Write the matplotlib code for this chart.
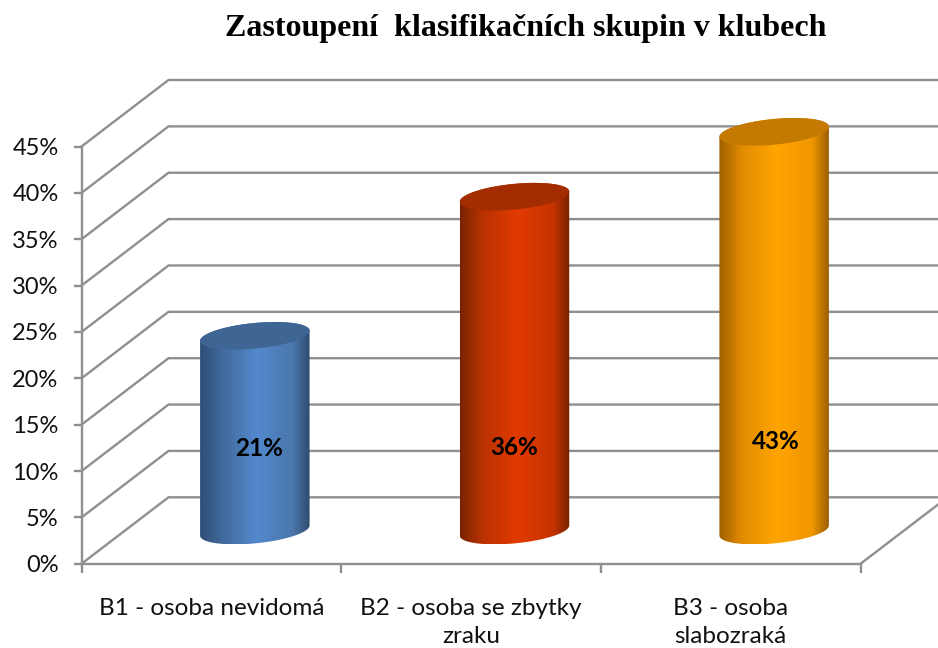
import numpy as np
import matplotlib
matplotlib.use("Agg")
import matplotlib.pyplot as plt
from matplotlib.path import Path
from matplotlib.patches import PathPatch
from matplotlib.colors import to_rgb

title = "Zastoupení  klasifikačních skupin v klubech"
categories = ["B1 - osoba nevidomá", "B2 - osoba se zbytky\nzraku", "B3 - osoba\nslabozraká"]
values = [21, 36, 43]
y_ticks = [0, 5, 10, 15, 20, 25, 30, 35, 40, 45]

W, H = 938, 648
L, R, B0, T45 = 81.5, 860.5, 563.8, 146.5
TOP_EXTRA = 55
PX_Y = (B0 - T45) / 45
PX_X = (R - L) / 3
DEPTH_X, DEPTH_Y = 87 / PX_X, 66.5 / PX_Y
GRID = "#8f8f8f"
A, Bb, TILT = 55.0, 12.8, np.radians(5.6)

styles = [
    dict(stops=["#2e4e76", "#41699b", "#5289cd", "#4a76ab", "#2f4a6e"], top="#3f6594"),
    dict(stops=["#782300", "#b83200", "#e23a00", "#c43400", "#742100"], top="#a32d00"),
    dict(stops=["#a06000", "#e08a00", "#ffa500", "#f09600", "#9a5e00"], top="#c47900"),
]
stop_pos = [0, 0.2, 0.52, 0.85, 1]
label_y = [12.4, 12.5, 13.2]
label_dx = [4, 0, 2]

fig = plt.figure(figsize=(W / 100, H / 100), dpi=100, facecolor="white")
ax = fig.add_axes([L / W, 1 - B0 / H, (R - L) / W, TOP_EXTRA * PX_Y / H])
ax.patch.set_alpha(0)
FONT = "Lato"


def ellipse(cx, cy, phi):
    x = A * np.cos(phi) * np.cos(TILT) - Bb * np.sin(phi) * np.sin(TILT)
    y = A * np.cos(phi) * np.sin(TILT) + Bb * np.sin(phi) * np.cos(TILT)
    return np.column_stack([cx + x / PX_X, cy + y / PX_Y])


# walls and floor
for v in y_ticks:
    ax.plot([0, DEPTH_X, 3 + DEPTH_X], [v, v + DEPTH_Y, v + DEPTH_Y], color=GRID, lw=1.7,
            clip_on=False, zorder=1, solid_joinstyle="miter")
ax.plot([3, 3 + DEPTH_X], [0, DEPTH_Y], color=GRID, lw=1.7, clip_on=False, zorder=1)

# cylinders
phi0 = np.arctan(-(Bb / A) * np.tan(TILT))
for i, (v, st) in enumerate(zip(values, styles)):
    cx = i + 0.5 + DEPTH_X / 2
    cy0 = DEPTH_Y / 2
    low = ellipse(cx, cy0, np.linspace(phi0 + np.pi, phi0 + 2 * np.pi, 80))
    high = ellipse(cx, cy0 + v, np.linspace(phi0, phi0 + np.pi, 80))
    pts = np.vstack([low, high, low[:1]])
    patch = PathPatch(Path(pts), fc="none", ec="none", transform=ax.transData, clip_on=False)
    ax.add_patch(patch)
    cols = np.array([to_rgb(c) for c in st["stops"]])
    t = np.linspace(0, 1, 256)
    grad = np.stack([np.interp(t, stop_pos, cols[:, k]) for k in range(3)], axis=-1)[None, :, :]
    x0, x1 = pts[:, 0].min(), pts[:, 0].max()
    y0, y1 = pts[:, 1].min(), pts[:, 1].max()
    im = ax.imshow(grad, extent=[x0, x1, y0, y1], aspect="auto", zorder=3, interpolation="bilinear")
    im.set_clip_path(patch)
    cap = ellipse(cx, cy0 + v, np.linspace(0, 2 * np.pi, 160))
    ax.fill(cap[:, 0], cap[:, 1], color=st["top"], zorder=4, lw=0, clip_on=False)
    ax.text(cx + label_dx[i] / PX_X, label_y[i], f"{v}%", ha="center", va="center", zorder=5,
            fontsize=17.5, fontweight="bold", family=FONT, color="black")

ax.set_xlim(0, 3)
ax.set_ylim(0, TOP_EXTRA)
ax.set_yticks(y_ticks, [f"{v}%" for v in y_ticks], fontsize=17, family=FONT, color="#111111")
ax.set_xticks([0, 1, 2, 3], [""] * 4)
ax.set_xticks([0.5, 1.5, 2.5], categories, minor=True, fontsize=17.5, family=FONT,
              color="#111111", linespacing=1.45)
ax.tick_params(axis="y", length=5.5, width=1.7, color=GRID, pad=11)
ax.tick_params(axis="x", which="major", length=6.5, width=1.7, color=GRID)
ax.tick_params(axis="x", which="minor", length=0, pad=24.5)
for s in ("top", "right"):
    ax.spines[s].set_visible(False)
for s in ("left", "bottom"):
    ax.spines[s].set_color(GRID)
    ax.spines[s].set_linewidth(1.7)
ax.spines["left"].set_bounds(0, 45)

fig.text(525.5 / W, 1 - 28.5 / H, title, ha="center", va="center", fontsize=23, fontweight="bold",
         family="Liberation Serif", color="black")
fig.savefig("out.png", dpi=100)
